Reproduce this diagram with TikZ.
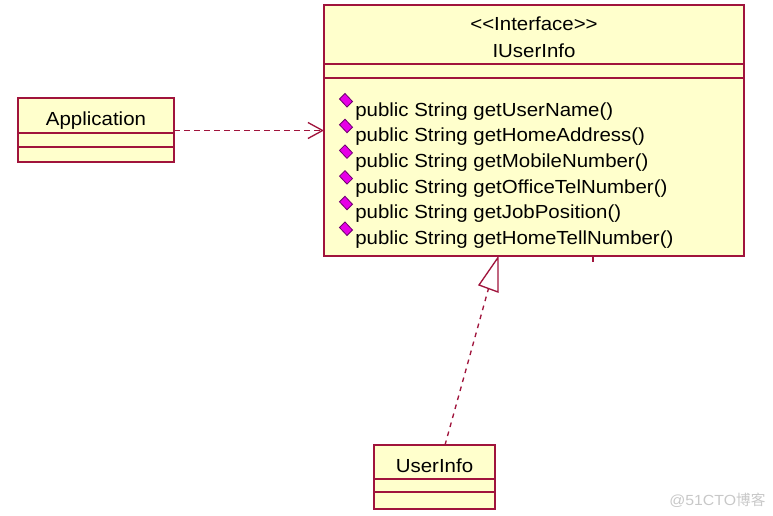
\documentclass[tikz,border=0pt]{standalone}
\usepackage{fontspec}
\setmainfont[FakeStretch=1.08]{Liberation Sans}
\newfontfamily\cjkfont{Noto Sans CJK SC}
\usetikzlibrary{arrows.meta}
\definecolor{umlfill}{RGB}{255,255,204}
\definecolor{umlline}{RGB}{160,20,60}
\definecolor{opmag}{RGB}{230,0,230}
\definecolor{opdark}{RGB}{110,0,110}
\definecolor{wmgray}{RGB}{200,200,200}
\tikzset{
  classbox/.style={draw=umlline, fill=umlfill, line width=1.2pt},
  divline/.style={draw=umlline, line width=1.2pt},
  umltext/.style={inner sep=0pt, font=\fontsize{14.2pt}{16pt}\selectfont, text=black},
  opicon/.style={fill=opmag, draw=opdark, line width=0.6pt},
  deparrow/.style={draw=umlline, line width=1pt, dash pattern=on 4.5pt off 3pt,
     -{Straight Barb[length=11pt,width=12pt,line width=1pt]}},
  realline/.style={draw=umlline, line width=1pt, dash pattern=on 3.5pt off 3.5pt},
  realtip/.style={draw=umlline, line width=1pt, fill=white, line join=miter},
}
\begin{document}
\begin{tikzpicture}[x=0.75pt,y=-0.75pt]
\useasboundingbox (0,0) rectangle (773,515);
% Application class
\draw[classbox] (18,98) rectangle (174,162);
\draw[divline] (18,133) -- (174,133);
\draw[divline] (18,147) -- (174,147);
\node[umltext, anchor=base] (app) at (96,125) {Application};
\coordinate (appR) at (174,130.5);
% Interface
\draw[classbox] (324,5) rectangle (744,256);
\draw[divline] (324,64) -- (744,64);
\draw[divline] (324,78) -- (744,78);
\node[umltext, anchor=base] (stereo) at (534,30) {<\kern0pt<Interface>\kern0pt>};
\node[umltext, anchor=base] (iname) at (534,57) {IUserInfo};
\coordinate (ifL) at (324,130.5);
\foreach \t [count=\i from 0] in {getUserName(),getHomeAddress(),getMobileNumber(),getOfficeTelNumber(),getJobPosition(),getHomeTellNumber()}{
  \pgfmathsetmacro{\yb}{116+25.7*\i}
  \node[umltext, anchor=base west] (op\i) at (355,\yb) {public String \t};
  \draw[opicon] (339.5,\yb-17) -- (345,\yb-22.5) -- (352.5,\yb-14.5) -- (347,\yb-9) -- cycle;
}
% small tick below interface
\draw[umlline, line width=1pt] (593,256) -- (593,262);
% UserInfo class
\draw[classbox] (374,445) rectangle (495,509);
\draw[divline] (374,479) -- (495,479);
\draw[divline] (374,492) -- (495,492);
\node[umltext, anchor=base] (ui) at (434.5,472) {UserInfo};
\coordinate (uiT) at (445,445);
% dependency
\draw[deparrow] (appR) -- (ifL);
% realization
\coordinate (triA) at (498,257.5);
\coordinate (triL) at (479,285);
\coordinate (triR) at (498,292);
\coordinate (triM) at (488.5,288.5);
\draw[realline] (uiT) -- (triM);
\draw[realtip] (triA) -- (triL) -- (triR) -- cycle;
% watermark
\node[inner sep=0pt, anchor=west, text=wmgray, font=\fontsize{11pt}{13pt}\selectfont] (wm) at (669,500) {@51CTO{\cjkfont 博客}};
\end{tikzpicture}
\end{document}
